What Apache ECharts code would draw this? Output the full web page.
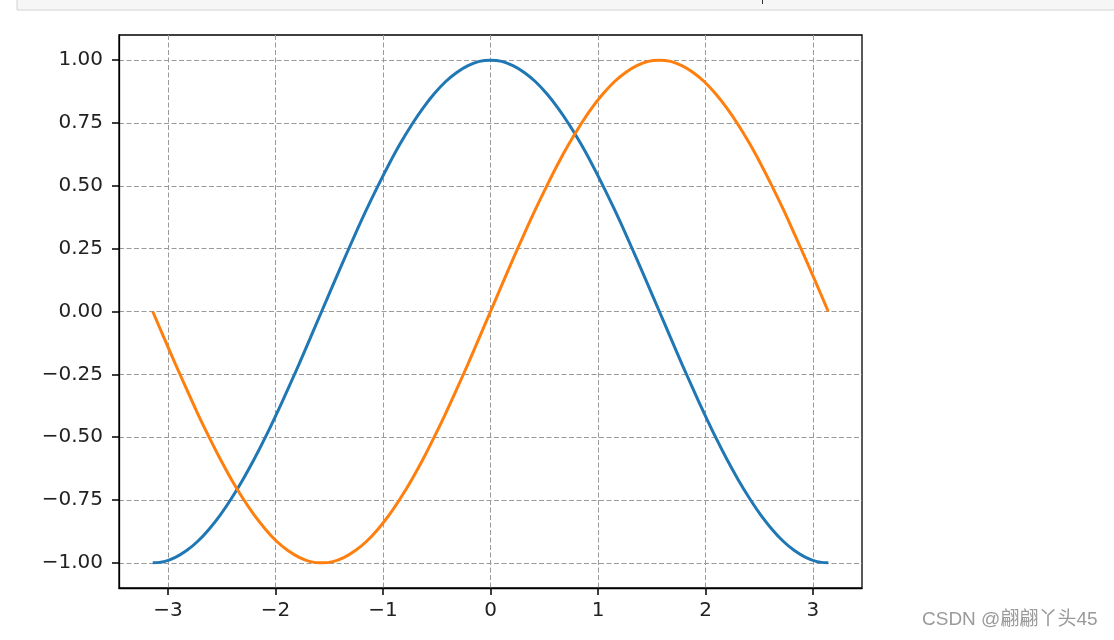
<!DOCTYPE html>
<html><head><meta charset="utf-8">
<script src="https://cdn.jsdelivr.net/npm/echarts@6/dist/echarts.min.js"></script>
<style>html,body{margin:0;padding:0;background:#fff}#c{width:1114px;height:640px}</style>
</head><body><div id="c"></div>
<script>
var xValues = [-3.142,-3.037,-2.932,-2.827,-2.723,-2.618,-2.513,-2.409,-2.304,-2.199,-2.094,-1.990,-1.885,-1.780,-1.676,-1.571,-1.466,-1.361,-1.257,-1.152,-1.047,-0.942,-0.838,-0.733,-0.628,-0.524,-0.419,-0.314,-0.209,-0.105,0,
0.105,0.209,0.314,0.419,0.524,0.628,0.733,0.838,0.942,1.047,1.152,1.257,1.361,1.466,1.571,1.676,1.780,1.885,1.990,2.094,2.199,2.304,2.409,2.513,2.618,2.723,2.827,2.932,3.037,3.142];
var cosValues = [-1,-0.995,-0.978,-0.951,-0.914,-0.866,-0.809,-0.743,-0.669,-0.588,-0.5,-0.407,-0.309,-0.208,-0.105,0,0.105,0.208,0.309,0.407,0.5,0.588,0.669,0.743,0.809,0.866,0.914,0.951,0.978,0.995,1,
0.995,0.978,0.951,0.914,0.866,0.809,0.743,0.669,0.588,0.5,0.407,0.309,0.208,0.105,0,-0.105,-0.208,-0.309,-0.407,-0.5,-0.588,-0.669,-0.743,-0.809,-0.866,-0.914,-0.951,-0.978,-0.995,-1];
var sinValues = [0,-0.105,-0.208,-0.309,-0.407,-0.5,-0.588,-0.669,-0.743,-0.809,-0.866,-0.914,-0.951,-0.978,-0.995,-1,-0.995,-0.978,-0.951,-0.914,-0.866,-0.809,-0.743,-0.669,-0.588,-0.5,-0.407,-0.309,-0.208,-0.105,0,
0.105,0.208,0.309,0.407,0.5,0.588,0.669,0.743,0.809,0.866,0.914,0.951,0.978,0.995,1,0.995,0.978,0.951,0.914,0.866,0.809,0.743,0.669,0.588,0.5,0.407,0.309,0.208,0.105,0];
var xTicks = [-3,-2,-1,0,1,2,3];
var yTicks = [-1,-0.75,-0.5,-0.25,0,0.25,0.5,0.75,1];
var watermark = 'CSDN @翩翩丫头45';

function pairs(xs, ys){ return xs.map(function(x,i){ return [x, ys[i]]; }); }
function fmtY(v){ var s = Number(v).toFixed(2); return s.replace('-', '\u2212'); }
function fmtX(v){ return String(Math.round(v)).replace('-', '\u2212'); }

var chart = echarts.init(document.getElementById('c'), null, {renderer:'canvas'});
var font = 'DejaVu Sans';
var gridLine = {show:true, lineStyle:{color:'#9a9a9a', width:1, type:[5,2.5]}};
chart.setOption({
  animation:false,
  backgroundColor:'#fff',
  grid:{left:119, top:35, width:743, height:553, show:true, borderColor:'#000', borderWidth:1.3, backgroundColor:'transparent', containLabel:false},
  xAxis:{type:'value', min:-3.456, max:3.456,
    axisLine:{show:true, onZero:false, lineStyle:{color:'#000', width:1.3}},
    axisTick:{show:true, inside:false, length:7, lineStyle:{color:'#000', width:1.5}, customValues:xTicks},
    axisLabel:{show:true, margin:13, color:'#222', fontFamily:font, fontSize:20, customValues:xTicks, formatter:fmtX},
    splitLine:gridLine},
  yAxis:{type:'value', min:-1.1, max:1.1,
    axisLine:{show:true, onZero:false, lineStyle:{color:'#000', width:1.3}},
    axisTick:{show:true, inside:false, length:7, lineStyle:{color:'#000', width:1.5}, customValues:yTicks},
    axisLabel:{show:true, margin:16, color:'#222', fontFamily:font, fontSize:20, customValues:yTicks, formatter:fmtY},
    splitLine:gridLine},
  series:[
    {type:'line', data:pairs(xValues, cosValues), showSymbol:false, symbol:'none', smooth:0.3, lineStyle:{color:'#1f77b4', width:3}, z:3},
    {type:'line', data:pairs(xValues, sinValues), showSymbol:false, symbol:'none', smooth:0.3, lineStyle:{color:'#ff7f0e', width:3}, z:4}
  ],
  graphic:[
    {type:'rect', shape:{x:17, y:-2, width:1110, height:12}, style:{fill:'#f6f6f6', stroke:'#d2d2d2', lineWidth:1}, silent:true},
    {type:'line', shape:{x1:762.5, y1:0, x2:762.5, y2:4}, style:{stroke:'#333', lineWidth:1}, silent:true},
    {type:'text', left:922, top:610, style:{text:watermark, fill:'#9a9a9a', font:'19px "Liberation Sans", "Noto Sans CJK SC", sans-serif'}, silent:true}
  ]
});
</script></body></html>
